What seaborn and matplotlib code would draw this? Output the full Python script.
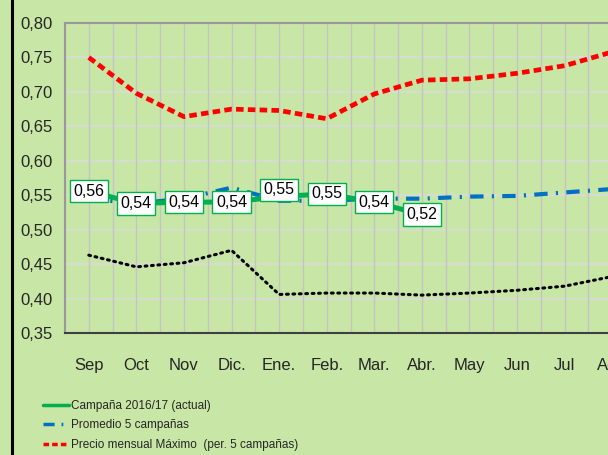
import matplotlib
matplotlib.use("Agg")
import matplotlib.pyplot as plt
import seaborn as sns
import pandas as pd
from matplotlib.lines import Line2D

months = ["Sep", "Oct", "Nov", "Dic.", "Ene.", "Feb.", "Mar.", "Abr.", "May", "Jun", "Jul", "Ago"]
campana = [0.556, 0.538, 0.540, 0.540, 0.548, 0.552, 0.540, 0.522]
promedio = [0.545, 0.538, 0.545, 0.561, 0.542, 0.542, 0.545, 0.545, 0.548, 0.549, 0.554, 0.559]
maximo = [0.750, 0.698, 0.664, 0.675, 0.673, 0.661, 0.697, 0.717, 0.719, 0.727, 0.738, 0.758]
minimo = [0.463, 0.446, 0.452, 0.470, 0.406, 0.408, 0.408, 0.405, 0.408, 0.412, 0.418, 0.432]
campana_labels = ["0,56", "0,54", "0,54", "0,54", "0,55", "0,55", "0,54", "0,52"]
yticks = [0.35, 0.40, 0.45, 0.50, 0.55, 0.60, 0.65, 0.70, 0.75, 0.80]

sns.set_style("white")
FONT = ["Liberation Sans Narrow", "Liberation Sans", "DejaVu Sans"]
plt.rcParams["font.family"] = FONT

BG = "#c8e6a6"
fig = plt.figure(figsize=(6.08, 4.55), dpi=100, facecolor=BG)
ax = fig.add_axes([65 / 608, 1 - 333 / 455, 571 / 608, 310 / 455])
ax.set_facecolor(BG)

x_all = list(range(len(months)))
df_min = pd.DataFrame({"x": x_all, "y": minimo})
df_max = pd.DataFrame({"x": x_all, "y": maximo})
df_prom = pd.DataFrame({"x": x_all, "y": promedio})
df_camp = pd.DataFrame({"x": x_all[:len(campana)], "y": campana})

sns.lineplot(data=df_min, x="x", y="y", ax=ax, color="black", lw=2.2,
             linestyle=(0, (0.6, 1.5)), dash_capstyle="round", label="_nolegend_", zorder=3)
sns.lineplot(data=df_max, x="x", y="y", ax=ax, color="#ff0000", lw=3.4,
             linestyle=(0, (1.6, 0.9)), label="Precio mensual Máximo  (per. 5 campañas)", zorder=3)
sns.lineplot(data=df_prom, x="x", y="y", ax=ax, color="#0070c0", lw=3.0,
             linestyle=(0, (3.2, 2.0, 0.5, 2.0)), label="Promedio 5 campañas", zorder=4)
sns.lineplot(data=df_camp, x="x", y="y", ax=ax, color="#00b050", lw=3.6,
             label="Campaña 2016/17 (actual)", zorder=5)

offsets = [0, 0, 0, 0, 0.010, 0, 0, 0]
for xi, (v, lab, off) in enumerate(zip(campana, campana_labels, offsets)):
    ax.text(xi, v + off, lab, ha="center", va="center", fontsize=11.5, color="black",
            family=FONT, zorder=6,
            bbox=dict(boxstyle="square,pad=0.22", fc="white", ec="#00b050", lw=1.0))

ax.set_xlim(-0.5, 11.5)
ax.set_ylim(0.35, 0.80)
ax.set_yticks(yticks)
ax.set_yticklabels([f"{t:.2f}".replace(".", ",") for t in yticks], fontsize=12, family=FONT)
ax.set_xticks(x_all)
ax.set_xticklabels(months, fontsize=12, family=FONT)
ax.tick_params(axis="x", length=0, pad=18)
ax.tick_params(axis="y", length=0, pad=9)
ax.set_xlabel("")
ax.set_ylabel("")

for yv in yticks:
    ax.axhline(yv, color="#dadada", lw=1.2, zorder=1)
for k in range(24):
    ax.axvline(-0.5 + k * 0.5, color="#c4c4c4", lw=1.0, zorder=1)

for s in ["left", "top", "right"]:
    ax.spines[s].set_color("#999999")
    ax.spines[s].set_linewidth(1.5)
ax.spines["bottom"].set_color("#404040")
ax.spines["bottom"].set_linewidth(1.5)

ax.get_legend().remove()
order = ["Campaña 2016/17 (actual)", "Promedio 5 campañas", "Precio mensual Máximo  (per. 5 campañas)"]
leg_handles = [
    Line2D([], [], color="#00b050", lw=2.5),
    Line2D([], [], color="#0070c0", lw=2.5, linestyle=(0, (3.2, 2.0, 0.5, 2.0))),
    Line2D([], [], color="#ff0000", lw=2.5, linestyle=(0, (1.6, 0.9))),
]
fig.legend(leg_handles, order, loc="upper left", bbox_to_anchor=(38 / 608, 1 - 395 / 455),
           frameon=False, prop={"family": FONT, "size": 8.5},
           handlelength=2.2, handletextpad=0.2, labelspacing=0.65, borderaxespad=0)

fig.add_artist(Line2D([12 / 608, 12 / 608], [0, 1], color="black", lw=2.2, transform=fig.transFigure))

fig.savefig("out.png", dpi=100, facecolor=BG)
